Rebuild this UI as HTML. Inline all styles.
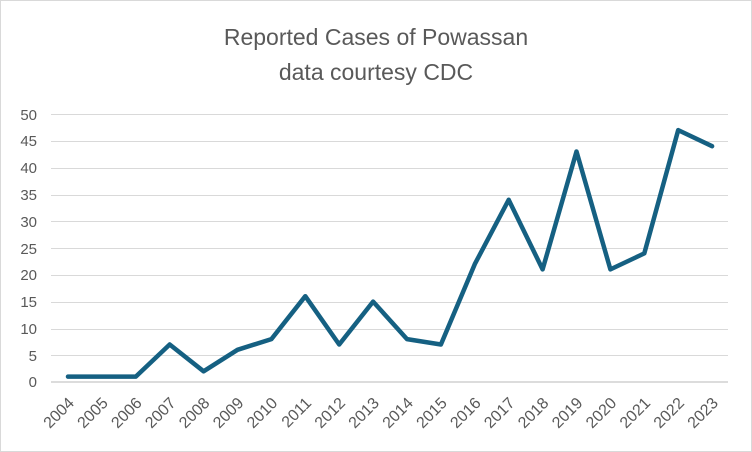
<!DOCTYPE html>
<html><head><style>body{margin:0;background:#fff}svg{display:block}</style></head><body>
<svg width="752" height="452" xmlns="http://www.w3.org/2000/svg" font-family="Liberation Sans, sans-serif">
<rect x="0.5" y="0.5" width="751" height="451" fill="#fff" stroke="#d9d9d9"/>
<text x="376" y="45" text-anchor="middle" font-size="23" fill="#595959">Reported Cases of Powassan</text>
<text x="376" y="80" text-anchor="middle" font-size="23" fill="#595959">data courtesy CDC</text>
<g stroke="#d9d9d9" stroke-width="1">
<line x1="51" x2="728" y1="114.5" y2="114.5"/><line x1="51" x2="728" y1="141.5" y2="141.5"/>
<line x1="51" x2="728" y1="168.5" y2="168.5"/><line x1="51" x2="728" y1="195.5" y2="195.5"/>
<line x1="51" x2="728" y1="221.5" y2="221.5"/><line x1="51" x2="728" y1="248.5" y2="248.5"/>
<line x1="51" x2="728" y1="275.5" y2="275.5"/><line x1="51" x2="728" y1="302.5" y2="302.5"/>
<line x1="51" x2="728" y1="329.5" y2="329.5"/><line x1="51" x2="728" y1="355.5" y2="355.5"/>
</g>
<line x1="51" x2="728" y1="382" y2="382" stroke="#d0d0d0" stroke-width="1.5"/>
<g font-size="15" fill="#595959" text-anchor="end">
<text x="37" y="387">0</text><text x="37" y="361">5</text><text x="37" y="334">10</text><text x="37" y="307">15</text>
<text x="37" y="280">20</text><text x="37" y="254">25</text><text x="37" y="227">30</text><text x="37" y="200">35</text>
<text x="37" y="173">40</text><text x="37" y="146">45</text><text x="37" y="120">50</text>
</g>
<g font-size="16" fill="#595959" text-anchor="end">
<text transform="translate(75,404) rotate(-45)">2004</text>
<text transform="translate(108.9,404) rotate(-45)">2005</text>
<text transform="translate(142.8,404) rotate(-45)">2006</text>
<text transform="translate(176.7,404) rotate(-45)">2007</text>
<text transform="translate(210.6,404) rotate(-45)">2008</text>
<text transform="translate(244.5,404) rotate(-45)">2009</text>
<text transform="translate(278.4,404) rotate(-45)">2010</text>
<text transform="translate(312.3,404) rotate(-45)">2011</text>
<text transform="translate(346.2,404) rotate(-45)">2012</text>
<text transform="translate(380.1,404) rotate(-45)">2013</text>
<text transform="translate(414,404) rotate(-45)">2014</text>
<text transform="translate(447.9,404) rotate(-45)">2015</text>
<text transform="translate(481.8,404) rotate(-45)">2016</text>
<text transform="translate(515.7,404) rotate(-45)">2017</text>
<text transform="translate(549.6,404) rotate(-45)">2018</text>
<text transform="translate(583.5,404) rotate(-45)">2019</text>
<text transform="translate(617.4,404) rotate(-45)">2020</text>
<text transform="translate(651.3,404) rotate(-45)">2021</text>
<text transform="translate(685.2,404) rotate(-45)">2022</text>
<text transform="translate(719.1,404) rotate(-45)">2023</text>
</g>
<polyline fill="none" stroke="#156082" stroke-width="4.5" stroke-linejoin="round" stroke-linecap="round" points="68,376.6 101.9,376.6 135.8,376.6 169.7,344.5 203.6,371.3 237.5,349.8 271.4,339.1 305.3,296.2 339.2,344.5 373.1,301.6 407,339.1 440.9,344.5 474.8,264.1 508.7,199.8 542.6,269.4 576.5,151.5 610.4,269.4 644.3,253.4 678.2,130.1 712.1,146.2"/>
</svg>
</body></html>
